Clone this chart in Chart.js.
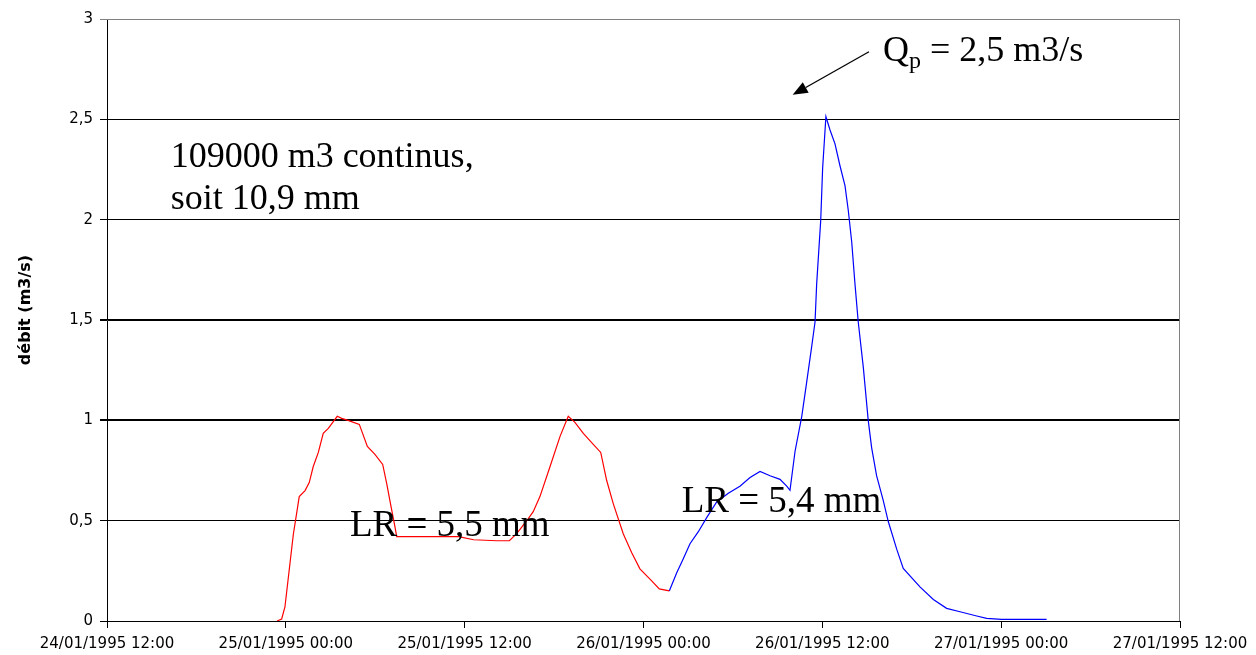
<!DOCTYPE html>
<html>
<head>
<meta charset="utf-8">
<script src="https://cdn.jsdelivr.net/npm/chart.js@4/dist/chart.umd.min.js"></script>
<style>
  html, body { margin: 0; padding: 0; background: #ffffff; }
  #wrap { position: relative; width: 1256px; height: 655px; }
</style>
</head>
<body>
<div id="wrap"><canvas id="c" width="1256" height="655"></canvas></div>
<script>
// Tick labels for the time axis (hours after 24/01/1995 12:00, every 12 h)
const dateLabels = ["24/01/1995 12:00", "25/01/1995 00:00", "25/01/1995 12:00", "26/01/1995 00:00", "26/01/1995 12:00", "27/01/1995 00:00", "27/01/1995 12:00"];

// Red segment: hours since 24/01/1995 12:00, discharge m3/s
const redHours = [11.41, 11.72, 11.94, 12.5, 12.9, 13.29, 13.57, 13.84, 14.18, 14.51, 14.85, 15.45, 15.75, 16.17, 16.93, 17.47, 17.98, 18.5, 18.77, 19.06, 19.32, 19.44, 23.6, 24.6, 26.15, 27.0, 27.49, 28.27, 28.6, 29.05, 29.73, 30.4, 30.95, 31.4, 31.96, 32.63, 33.13, 33.53, 33.97, 34.64, 35.21, 35.76, 36.55, 37.06, 37.73];
const redFlow  = [0, 0.01, 0.07, 0.43, 0.62, 0.65, 0.69, 0.77, 0.84, 0.935, 0.96, 1.02, 1.01, 1.0, 0.98, 0.87, 0.83, 0.78, 0.685, 0.57, 0.47, 0.42, 0.42, 0.405, 0.40, 0.40, 0.435, 0.51, 0.545, 0.62, 0.77, 0.92, 1.02, 0.99, 0.935, 0.88, 0.84, 0.70, 0.585, 0.435, 0.34, 0.26, 0.20, 0.16, 0.15];

// Blue segment
const blueHours = [37.73, 38.23, 38.67, 39.12, 39.68, 40.24, 40.91, 41.69, 42.47, 43.15, 43.82, 44.49, 45.16, 45.61, 45.83, 46.17, 46.62, 46.95, 47.29, 47.51, 47.62, 47.89, 48.02, 48.24, 48.51, 48.85, 49.18, 49.52, 49.74, 49.97, 50.19, 50.41, 50.75, 51.08, 51.31, 51.64, 52.09, 52.42, 52.99, 53.43, 54.55, 55.45, 56.34, 57.24, 58.36, 59.03, 60.03, 63.05];
const blueFlow  = [0.15, 0.24, 0.31, 0.385, 0.445, 0.515, 0.593, 0.637, 0.672, 0.715, 0.745, 0.724, 0.706, 0.672, 0.651, 0.846, 1.02, 1.19, 1.37, 1.49, 1.68, 1.995, 2.256, 2.514, 2.448, 2.378, 2.27, 2.17, 2.047, 1.89, 1.68, 1.49, 1.264, 1.0, 0.863, 0.724, 0.60, 0.497, 0.358, 0.262, 0.17, 0.107, 0.063, 0.046, 0.025, 0.013, 0.008, 0.008];

const yTitle = "débit (m3/s)";
const noteVolume = ["109000 m3 continus,", "soit 10,9 mm"];
const noteLR1 = "LR = 5,5 mm";
const noteLR2 = "LR = 5,4 mm";
const notePeakQ = "Q";
const notePeakSub = "p";
const notePeakRest = " = 2,5 m3/s";

function toPts(xs, ys) { return xs.map((x, i) => ({ x: x, y: ys[i] })); }

const annotations = {
  id: 'annotations',
  afterDatasetsDraw(chart) {
    const ctx = chart.ctx;
    const xs = chart.scales.x, ys = chart.scales.y;
    const px = v => xs.getPixelForValue(v);
    const py = v => ys.getPixelForValue(v);
    ctx.save();
    // plot frame (top/right) in grey
    const a = chart.chartArea;
    ctx.strokeStyle = '#808080';
    ctx.lineWidth = 1;
    ctx.beginPath();
    ctx.moveTo(a.left, a.top + 0.5);
    ctx.lineTo(a.right - 0.5, a.top + 0.5);
    ctx.lineTo(a.right - 0.5, a.bottom);
    ctx.stroke();

    // y axis title
    ctx.save();
    ctx.translate(26, (a.top + a.bottom) / 2 - 10);
    ctx.rotate(-Math.PI / 2);
    ctx.textAlign = 'center';
    ctx.textBaseline = 'middle';
    ctx.fillStyle = '#000';
    ctx.font = 'bold 16px "DejaVu Sans", sans-serif';
    ctx.fillText(yTitle, 0, 0);
    ctx.restore();

    const serif = '"Liberation Serif", "Times New Roman", serif';
    ctx.fillStyle = '#000';
    ctx.textBaseline = 'alphabetic';
    ctx.textAlign = 'left';
    ctx.font = '36px ' + serif;
    ctx.fillText(noteVolume[0], px(4.27), py(2.26));
    ctx.fillText(noteVolume[1], px(4.27), py(2.055));
    ctx.font = '37px ' + serif;
    ctx.fillText(noteLR1, px(16.3), py(0.424));
    ctx.fillText(noteLR2, px(38.56), py(0.543));

    // Peak label
    ctx.font = '36px ' + serif;
    let x0 = px(52.07), yb = py(2.79);
    ctx.fillText(notePeakQ, x0, yb);
    const wQ = ctx.measureText(notePeakQ).width;
    ctx.font = '24px ' + serif;
    ctx.fillText(notePeakSub, x0 + wQ, yb + 7);
    const wp = ctx.measureText(notePeakSub).width;
    ctx.font = '36px ' + serif;
    ctx.fillText(notePeakRest, x0 + wQ + wp, yb);

    // Arrow
    const ax1 = px(51.13), ay1 = py(2.837), ax2 = px(46.01), ay2 = py(2.622);
    const ang = Math.atan2(ay2 - ay1, ax2 - ax1);
    const hl = 15, hw = 6;
    const bx = ax2 - hl * Math.cos(ang), by = ay2 - hl * Math.sin(ang);
    ctx.strokeStyle = '#000';
    ctx.lineWidth = 1.3;
    ctx.beginPath();
    ctx.moveTo(ax1, ay1);
    ctx.lineTo(bx, by);
    ctx.stroke();
    ctx.beginPath();
    ctx.moveTo(ax2, ay2);
    ctx.lineTo(bx + hw * Math.sin(ang), by - hw * Math.cos(ang));
    ctx.lineTo(bx - hw * Math.sin(ang), by + hw * Math.cos(ang));
    ctx.closePath();
    ctx.fill();
    ctx.restore();
  }
};

new Chart(document.getElementById('c'), {
  type: 'line',
  data: {
    datasets: [
      { label: 'rouge', data: toPts(redHours, redFlow), borderColor: '#ff0000', borderWidth: 1.2, pointRadius: 0, tension: 0, fill: false },
      { label: 'bleu', data: toPts(blueHours, blueFlow), borderColor: '#0000ff', borderWidth: 1.2, pointRadius: 0, tension: 0, fill: false }
    ]
  },
  options: {
    responsive: false,
    animation: false,
    devicePixelRatio: 1,
    layout: { padding: { left: 0, right: 76, top: 19, bottom: 0 } },
    plugins: { legend: { display: false }, tooltip: { enabled: false } },
    scales: {
      x: {
        type: 'linear',
        min: 0, max: 72,
        afterFit(s) { s.height = 34; },
        afterBuildTicks(s) { s.ticks = dateLabels.map((_, i) => ({ value: i * 12 })); },
        ticks: {
          autoSkip: false, maxRotation: 0, minRotation: 0, padding: 7,
          color: '#000',
          font: { family: '"DejaVu Sans", sans-serif', size: 15 },
          callback: (v) => dateLabels[Math.round(v / 12)]
        },
        grid: { drawOnChartArea: false, drawTicks: true, tickLength: 7, color: '#000', lineWidth: 1 },
        border: { color: '#000', width: 1 }
      },
      y: {
        min: 0, max: 3,
        afterFit(s) { s.width = 107; },
        ticks: {
          stepSize: 0.5, padding: 7, color: '#000',
          font: { family: '"DejaVu Sans", sans-serif', size: 15 },
          callback: (v) => String(v).replace('.', ',')
        },
        grid: {
          drawTicks: true, tickLength: 7,
          color: (c) => (c.tick && c.tick.value === 3) ? '#808080' : '#000',
          lineWidth: (c) => (c.tick && (c.tick.value === 1 || c.tick.value === 1.5)) ? 2 : 1
        },
        border: { color: '#000', width: 1 },
        title: { display: false }
      }
    }
  },
  plugins: [annotations]
});
</script>
</body>
</html>
